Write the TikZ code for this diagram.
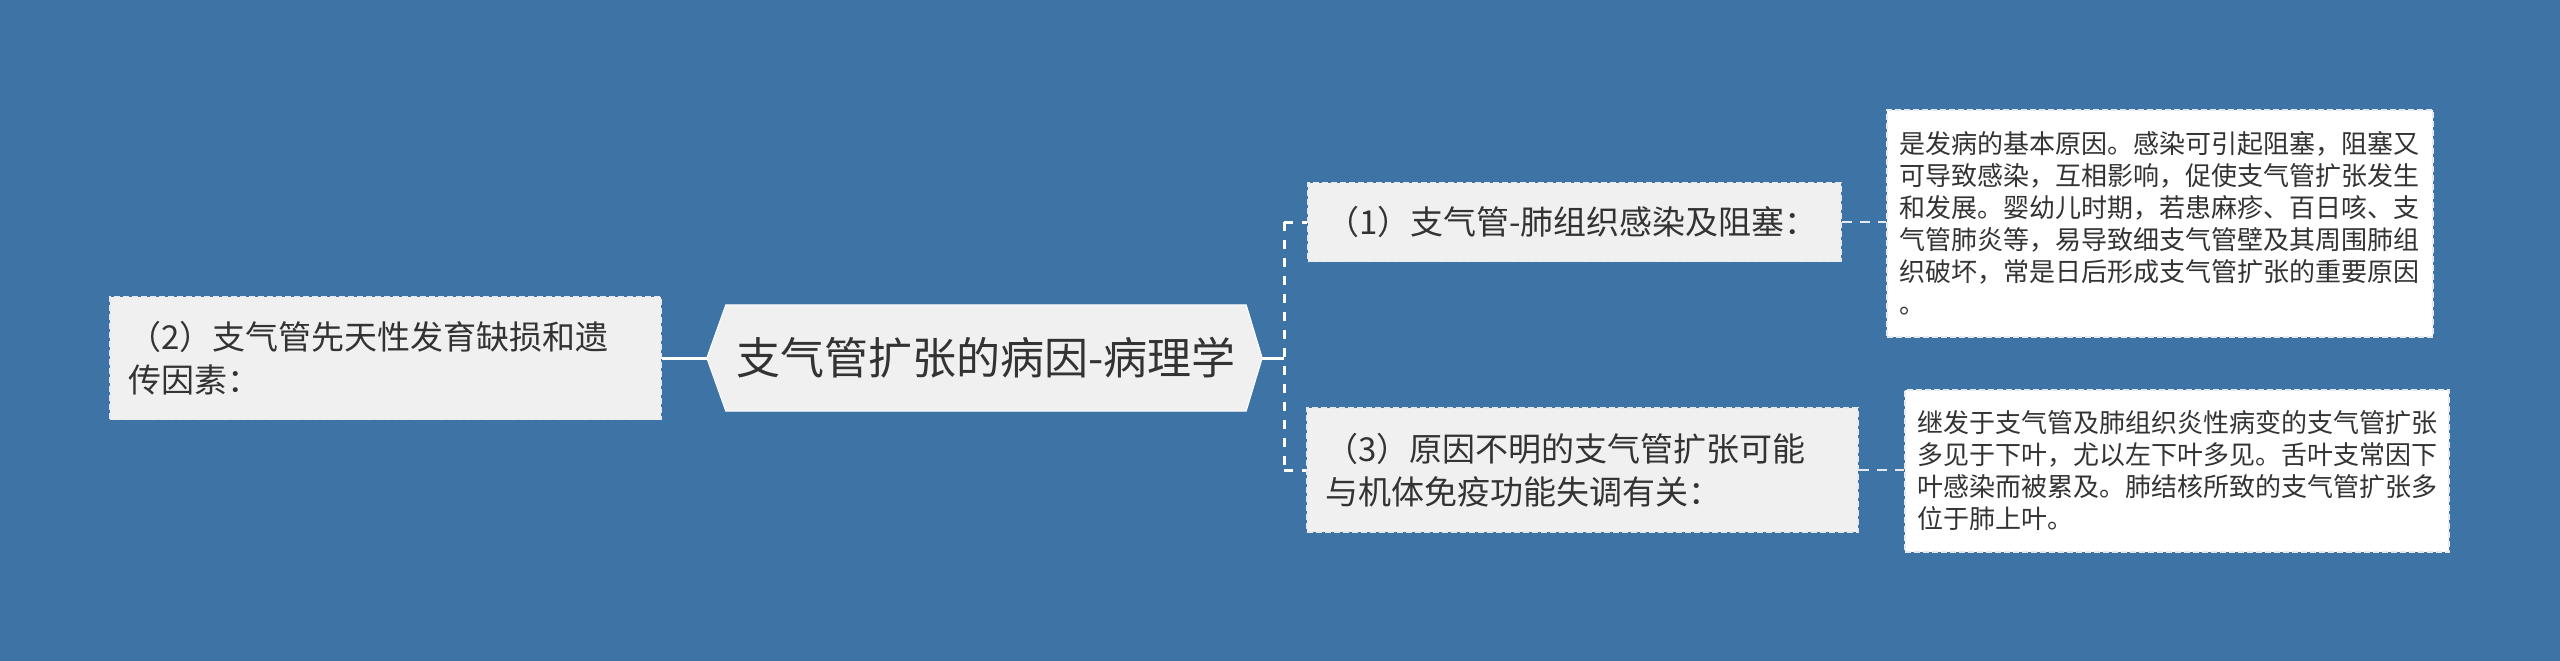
\documentclass[tikz,border=0pt]{standalone}
\usepackage{fontspec}
\newfontfamily\cjk{Noto Sans CJK SC}
\usetikzlibrary{calc}
\definecolor{bgblue}{HTML}{3E73A5}
\definecolor{boxgray}{HTML}{F0F0F0}
\definecolor{txt}{HTML}{333333}
\definecolor{edge}{HTML}{E6EAF0}
\pgfdeclarelayer{bg}
\pgfsetlayers{bg,main}
\begin{document}
\begin{tikzpicture}[x=1pt,y=-1pt,
  root/.style={text=txt, font=\cjk\fontsize{44}{52}\selectfont, minimum width=520pt, minimum height=106pt, inner sep=0pt},
  branch/.style={draw=edge, fill=boxgray, line width=1.5pt, dash pattern=on 6pt off 3pt, text=txt,
    font=\cjk\fontsize{33}{42.5}\selectfont, align=left, inner xsep=18pt, inner ysep=0pt},
  leaf/.style={draw=edge, fill=white, line width=1.5pt, dash pattern=on 6pt off 3pt, text=txt,
    align=left, inner xsep=12pt, inner ysep=0pt},
  mainlink/.style={draw=white, line width=3pt},
  dashlink/.style={draw=white, line width=3pt, dash pattern=on 9pt off 9pt},
  leaflink/.style={draw=edge, line width=2pt, dash pattern=on 10pt off 8pt}]
\begin{pgfonlayer}{bg}
\fill[bgblue] (0,0) rectangle (2560,661);
\end{pgfonlayer}
\useasboundingbox (0,0) rectangle (2560,661);

% root
\node[root] (c) at (986,358) {支气管扩张的病因-病理学};
\coordinate (cl) at ($(c.west)+(-19,0)$);
\coordinate (cr) at ($(c.east)+(16,0)$);
\begin{pgfonlayer}{bg}
\filldraw[fill=boxgray, draw=white, line width=1pt] (c.north west) -- (c.north east) -- (cr) -- (c.south east) -- (c.south west) -- (cl) -- cycle;
\end{pgfonlayer}

% branches
\node[branch, text width=515pt, minimum height=123pt] (L) at (385.5,358) {（2）支气管先天性发育缺损和遗\\传因素：};
\node[branch, text width=497pt, minimum height=79pt] (b1) at (1574.5,222) {（1）支气管-肺组织感染及阻塞：};
\node[branch, text width=515pt, minimum height=124pt] (b3) at (1582.5,470) {（3）原因不明的支气管扩张可能\\与机体免疫功能失调有关：};

% leaves
\node[leaf, text width=522pt, minimum height=227pt, font=\cjk\fontsize{26}{32}\selectfont] (d1) at (2160,223.5)
  {是发病的基本原因。感染可引起阻塞，阻塞又\\可导致感染，互相影响，促使支气管扩张发生\\和发展。婴幼儿时期，若患麻疹、百日咳、支\\气管肺炎等，易导致细支气管壁及其周围肺组\\织破坏，常是日后形成支气管扩张的重要原因\\。};
\node[leaf, text width=520pt, minimum height=162pt, font=\cjk\fontsize{26}{32}\selectfont] (d2) at (2177,471)
  {继发于支气管及肺组织炎性病变的支气管扩张\\多见于下叶，尤以左下叶多见。舌叶支常因下\\叶感染而被累及。肺结核所致的支气管扩张多\\位于肺上叶。};

% connectors
\coordinate (j) at (1284,358);
\coordinate (jt) at (j |- b1.west);
\coordinate (jb) at (j |- b3.west);
\draw[mainlink] (L.east) -- (cl);
\draw[mainlink] (cr) -- (j);
\draw[dashlink] (jt) -- (jb);
\draw[dashlink] (jt) -- (b1.west);
\draw[dashlink] (jb) -- (b3.west);
\draw[leaflink] (b1.east) -- (b1.east -| d1.west);
\draw[leaflink] (b3.east) -- (b3.east -| d2.west);
\end{tikzpicture}
\end{document}
